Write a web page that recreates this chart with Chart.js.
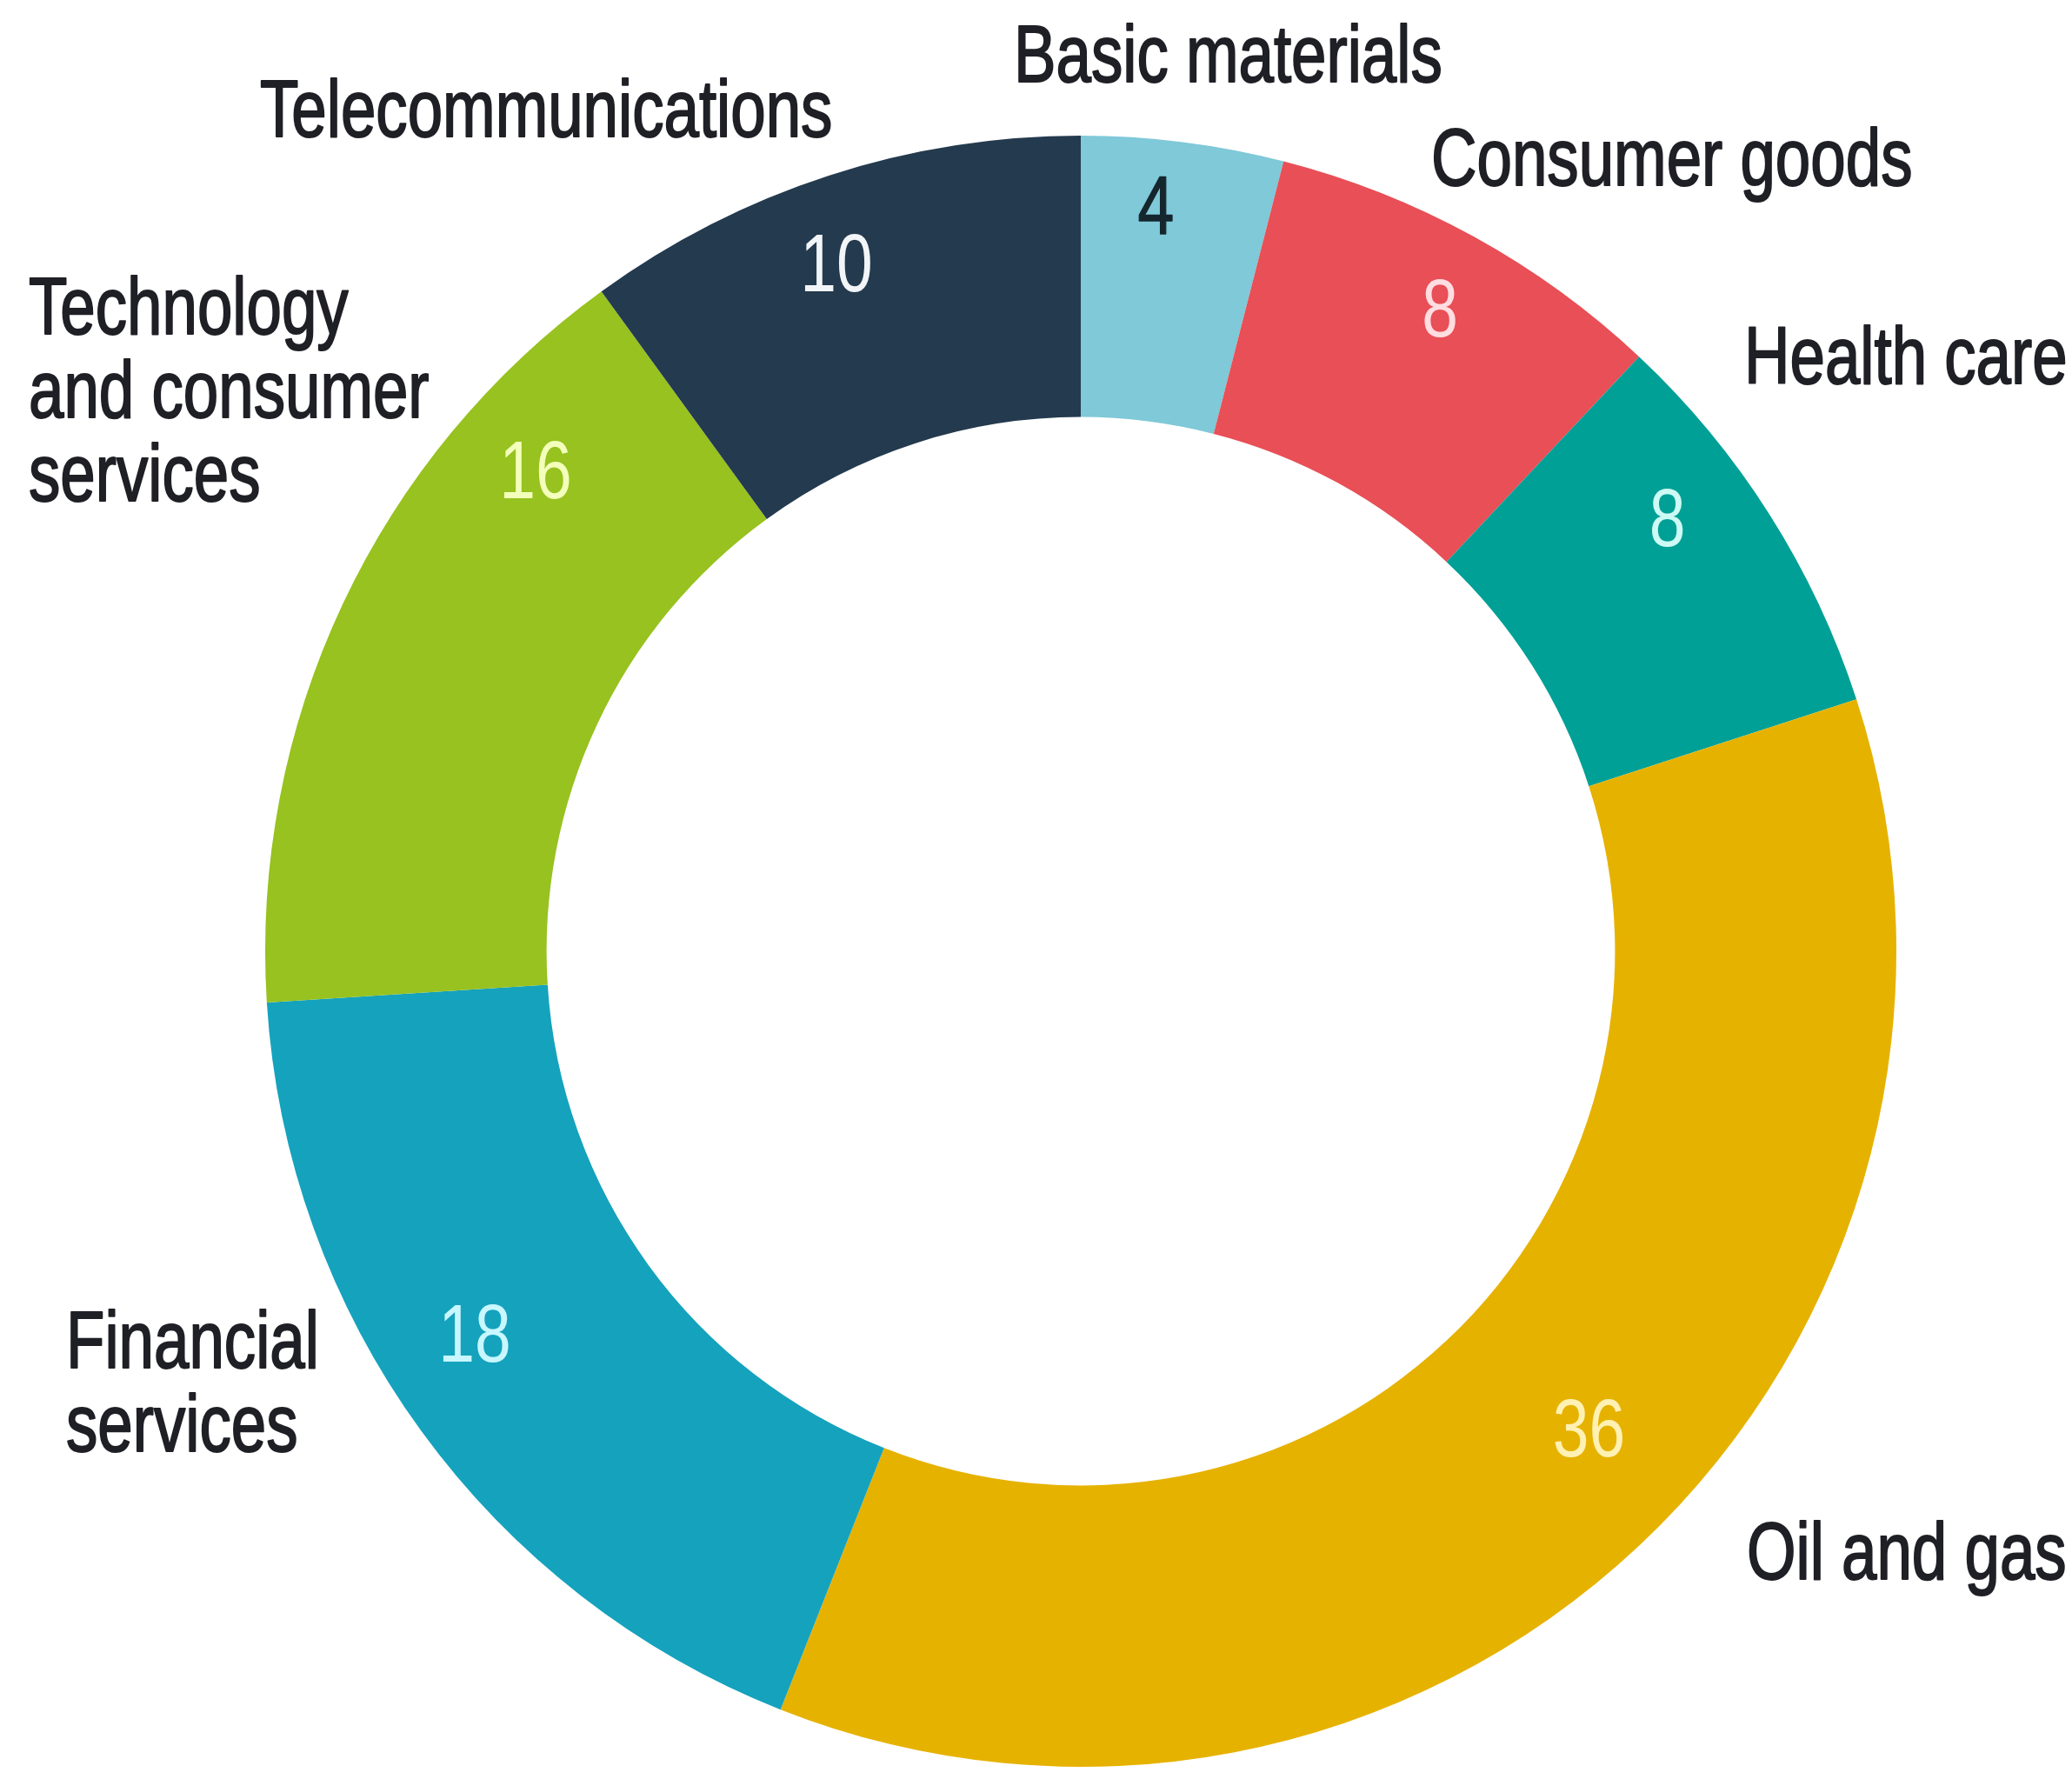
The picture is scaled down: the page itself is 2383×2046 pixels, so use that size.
<!DOCTYPE html>
<html>
<head>
<meta charset="utf-8">
<script src="https://cdn.jsdelivr.net/npm/chart.js@4/dist/chart.umd.min.js"></script>
<style>
  html, body { margin: 0; padding: 0; background: #fff; }
  canvas { display: block; }
</style>
</head>
<body>
<canvas id="sectorChart" width="2383" height="2046"></canvas>
<script>
// sector shares, clockwise from 12 o'clock
const sectors = ['Basic materials', 'Consumer goods', 'Health care', 'Oil and gas',
                 'Financial services', 'Technology and consumer services', 'Telecommunications'];
const shares = [4, 8, 8, 36, 18, 16, 10];

const sliceColors = ['#7fc9d8', '#e84f56', '#00a096', '#e6b200', '#15a2bd', '#97c21f', '#243a4e'];
const valueColors = ['#15262d', '#ffdde0', '#cdfaf4', '#fff1b3', '#c8f7ff', '#f4ffbb', '#f2f5f8'];

// where the numbers sit inside each slice: angle nudge (deg) and radius as share of outer radius
const valueNudge = [-1.4, 0.6, -3.7, -3.3, 3.4, 15.9, -1.7];
const valueRadius = [0.912, 0.897, 0.89, 0.859, 0.882, 0.887, 0.889];

// outside captions: lines, left x, first baseline
const captions = [
    { lines: ['Basic materials'], x: 1166, y: 94 },
    { lines: ['Consumer goods'], x: 1646, y: 213 },
    { lines: ['Health care'], x: 2006, y: 441 },
    { lines: ['Oil and gas'], x: 2009, y: 1816 },
    { lines: ['Financial', 'services'], x: 76, y: 1573 },
    { lines: ['Technology', 'and consumer', 'services'], x: 33, y: 384 },
    { lines: ['Telecommunications'], x: 299, y: 157 }
];

const FONT = '"Liberation Sans Narrow", "Arial Narrow", "Liberation Sans", sans-serif';
const SQUEEZE = 0.79; // no condensed face installed, so narrow the regular one

// draws text squeezed horizontally; a stroke width > 0 gives it a bit more weight
function narrowText(ctx, text, x, y, stroke) {
    ctx.save();
    ctx.translate(x, y);
    ctx.scale(SQUEEZE, 1);
    ctx.fillText(text, 0, 0);
    if (stroke) {
        ctx.lineWidth = stroke;
        ctx.strokeText(text, 0, 0);
    }
    ctx.restore();
}

const labelPlugin = {
    id: 'sectorLabels',
    afterDatasetsDraw(chart) {
        const ctx = chart.ctx;
        const arcs = chart.getDatasetMeta(0).data;
        ctx.save();
        ctx.lineJoin = 'round';

        // numbers inside the ring
        ctx.font = '95px ' + FONT;
        ctx.textAlign = 'center';
        ctx.textBaseline = 'middle';
        arcs.forEach((arc, i) => {
            const p = arc.getProps(['x', 'y', 'startAngle', 'endAngle', 'outerRadius'], true);
            const a = (p.startAngle + p.endAngle) / 2 + valueNudge[i] * Math.PI / 180;
            const r = p.outerRadius * valueRadius[i];
            ctx.fillStyle = valueColors[i];
            ctx.strokeStyle = valueColors[i];
            narrowText(ctx, String(shares[i]), p.x + Math.cos(a) * r, p.y + Math.sin(a) * r, i === 0 ? 1.5 : 0);
        });

        // sector names around the ring
        ctx.font = '92px ' + FONT;
        ctx.textAlign = 'left';
        ctx.textBaseline = 'alphabetic';
        ctx.fillStyle = '#1f1f26';
        ctx.strokeStyle = '#1f1f26';
        captions.forEach(c => {
            c.lines.forEach((line, k) => narrowText(ctx, line, c.x, c.y + k * 96, 2));
        });
        ctx.restore();
    }
};

new Chart(document.getElementById('sectorChart'), {
    type: 'doughnut',
    data: {
        labels: sectors,
        datasets: [{
            data: shares,
            backgroundColor: sliceColors,
            borderWidth: 0,
            hoverOffset: 0
        }]
    },
    options: {
        responsive: false,
        animation: false,
        cutout: '65.5%',
        layout: {
            padding: { top: 156, bottom: 14, left: 305, right: 202 }
        },
        plugins: {
            legend: { display: false },
            tooltip: { enabled: false }
        }
    },
    plugins: [labelPlugin]
});
</script>
</body>
</html>
